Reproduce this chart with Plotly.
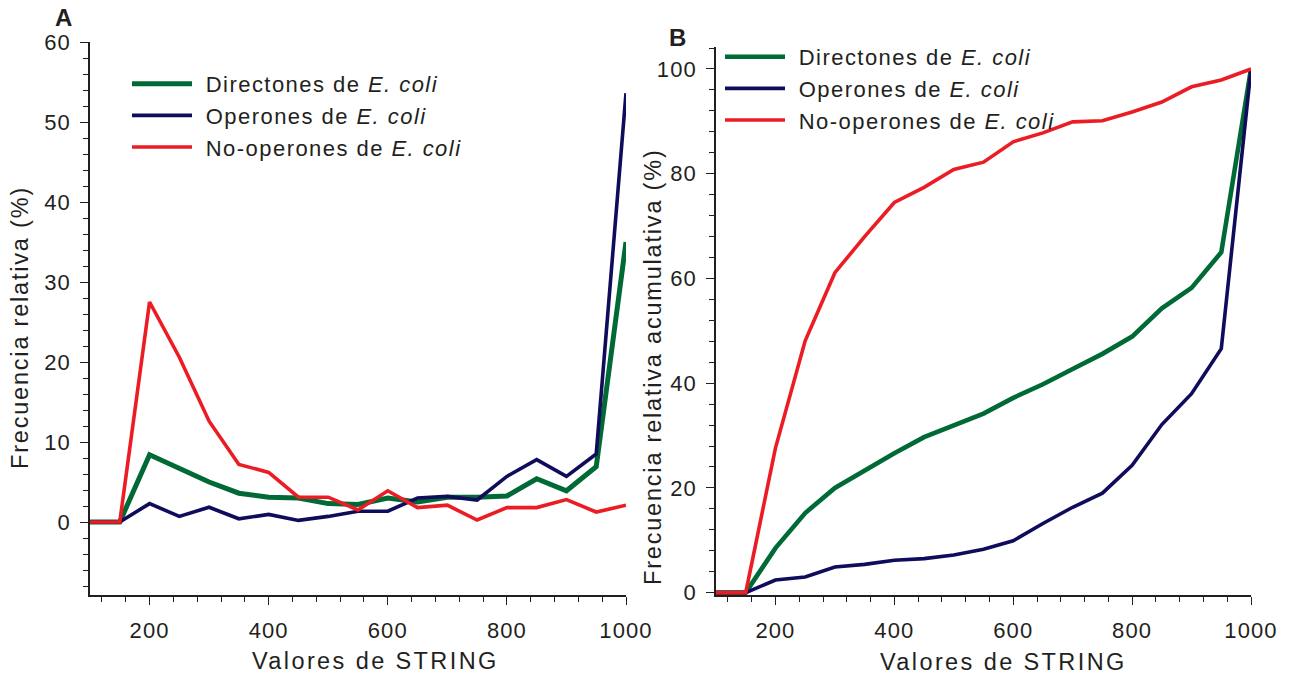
import plotly.graph_objects as go

# STRING score bins
string_vals = [100, 150, 200, 250, 300, 350, 400, 450, 500, 550,
               600, 650, 700, 750, 800, 850, 900, 950, 1000]

# Panel A: relative frequency (%)
dir_rel = [0, 0, 8.4, 6.7, 5.0, 3.6, 3.1, 3.0, 2.3, 2.2,
           3.0, 2.5, 3.1, 3.1, 3.25, 5.4, 3.9, 6.9, 35.0]
op_rel = [0, 0, 2.3, 0.7, 1.85, 0.4, 0.95, 0.2, 0.7, 1.35,
          1.35, 3.0, 3.2, 2.75, 5.7, 7.8, 5.7, 8.5, 53.6]
noop_rel = [0, 0, 27.5, 20.6, 12.6, 7.2, 6.2, 3.1, 3.1, 1.5,
            3.9, 1.8, 2.1, 0.25, 1.8, 1.8, 2.8, 1.25, 2.1]

# Panel B: cumulative relative frequency (%)
dir_cum = [0, 0, 8.5, 15.2, 20.0, 23.4, 26.6, 29.7, 31.9, 34.2,
           37.2, 39.8, 42.7, 45.6, 48.9, 54.3, 58.2, 65.0, 100.0]
op_cum = [0, 0, 2.4, 3.0, 4.9, 5.4, 6.2, 6.5, 7.2, 8.3,
          9.9, 13.2, 16.3, 19.0, 24.3, 32.1, 38.0, 46.6, 100.0]
noop_cum = [0, 0, 27.6, 48.1, 61.1, 68.0, 74.5, 77.4, 80.8, 82.2,
            86.1, 87.8, 89.9, 90.1, 91.8, 93.7, 96.6, 97.9, 100.0]

series_names = ["Directones de <i>E. coli</i>",
                "Operones de <i>E. coli</i>",
                "No-operones de <i>E. coli</i>"]

x_tickvals = [200, 400, 600, 800, 1000]
ya_tickvals = [0, 10, 20, 30, 40, 50, 60]
yb_tickvals = [0, 20, 40, 60, 80, 100]

W, H = 1292, 677
FONT = "Liberation Sans, Arial, sans-serif"
INK = "#231f20"
GREEN, NAVY, RED = "#006a37", "#100c5c", "#ec1c24"


def sp(t, ls=1.2):
    return f'<span style="letter-spacing:{ls}px">{t}</span>'


def px_x(p):
    return p / W


def px_y(p):
    return 1 - p / H


fig = go.Figure()

styles = [(GREEN, 5), (NAVY, 3.6), (RED, 3.6)]
for name, ys, (c, w) in zip(series_names, [dir_rel, op_rel, noop_rel], styles):
    fig.add_trace(go.Scatter(x=string_vals, y=ys, mode="lines",
                             name=sp("\u2004" + name, 1.45),
                             line=dict(color=c, width=w), legend="legend",
                             xaxis="x", yaxis="y"))
stylesB = [(GREEN, 4.6), (NAVY, 3.6), (RED, 3.6)]
for name, ys, (c, w) in zip(series_names, [dir_cum, op_cum, noop_cum], stylesB):
    fig.add_trace(go.Scatter(x=string_vals, y=ys, mode="lines",
                             name=sp("\u2004" + name, 1.45),
                             line=dict(color=c, width=w), legend="legend2",
                             xaxis="x2", yaxis="y2"))

domA = [px_x(90), px_x(626)]
domB = [px_x(716), px_x(1251)]
ydom_a = [px_y(595), px_y(42)]
ydom_b = [px_y(595), px_y(47)]
xr = [100, 1000]
ya_r = [-9.125, 60]
yb_r = [-0.45, 104.2]

tickfont = dict(family=FONT, size=22, color=INK)


def xaxis_main(dom, anchor):
    return dict(domain=dom, range=xr, anchor=anchor, showgrid=False, zeroline=False,
                automargin=False, showline=True, linecolor=INK, linewidth=1.5,
                tickvals=x_tickvals, ticktext=[sp(str(v), 1.1) for v in x_tickvals],
                ticks="outside", ticklen=8, tickwidth=1.4, tickcolor=INK,
                ticklabelstandoff=7, tickfont=tickfont,
                minor=dict(tick0=0, dtick=40, ticks="outside", ticklen=5,
                           tickwidth=1.3, tickcolor=INK))


def xaxis_inner(over, anchor):
    return dict(overlaying=over, anchor=anchor, range=xr, side="bottom",
                automargin=False, showgrid=False, zeroline=False, showline=False,
                showticklabels=False,
                tickvals=x_tickvals, ticks="inside", ticklen=10, tickwidth=1.4,
                tickcolor=INK,
                minor=dict(tick0=0, dtick=40, ticks="inside", ticklen=6,
                           tickwidth=1.3, tickcolor=INK))


def yaxis_main(dom, anchor, rng, tv, mdt, standoff):
    return dict(domain=dom, range=rng, anchor=anchor, showgrid=False, zeroline=False,
                automargin=False, showline=True, linecolor=INK, linewidth=1.5,
                tickvals=tv, ticktext=[sp(str(v), 1.1) for v in tv],
                ticks="outside", ticklen=8, tickwidth=1.4, tickcolor=INK,
                ticklabelstandoff=standoff, tickfont=tickfont,
                minor=dict(tick0=0, dtick=mdt, ticks="outside", ticklen=5,
                           tickwidth=1.3, tickcolor=INK))


def yaxis_inner(over, anchor, rng, tv, mdt):
    return dict(overlaying=over, anchor=anchor, range=rng, side="left",
                automargin=False, showgrid=False, zeroline=False, showline=False,
                showticklabels=False,
                tickvals=tv, ticks="inside", ticklen=8, tickwidth=1.4, tickcolor=INK,
                minor=dict(tick0=0, dtick=mdt, ticks="inside", ticklen=5,
                           tickwidth=1.3, tickcolor=INK))


legend_common = dict(font=dict(family=FONT, size=22, color=INK), bgcolor="rgba(0,0,0,0)",
                     borderwidth=0, itemwidth=60, xanchor="left", yanchor="top",
                     itemclick=False, itemdoubleclick=False)

title_font = dict(family=FONT, size=23.5, color=INK)


def label(text, x, y, font, angle=0):
    return dict(text=text, x=px_x(x), y=px_y(y), xref="paper", yref="paper",
                xanchor="center", yanchor="middle", showarrow=False,
                textangle=angle, font=font)


fig.update_layout(
    width=W, height=H, margin=dict(l=0, r=0, t=0, b=0, autoexpand=False),
    paper_bgcolor="white", plot_bgcolor="white",
    xaxis=xaxis_main(domA, "y"),
    yaxis=yaxis_main(ydom_a, "x", ya_r, ya_tickvals, 2, 5),
    xaxis2=xaxis_main(domB, "y2"),
    yaxis2=yaxis_main(ydom_b, "x2", yb_r, yb_tickvals, 4, 5),
    xaxis3=xaxis_inner("x", "y"),
    yaxis3=yaxis_inner("y", "x", ya_r, ya_tickvals, 2),
    xaxis4=xaxis_inner("x2", "y2"),
    yaxis4=yaxis_inner("y2", "x2", yb_r, yb_tickvals, 4),
    legend=dict(x=px_x(127), y=px_y(63), **legend_common),
    legend2=dict(x=px_x(720), y=px_y(36), **legend_common),
    showlegend=True,
    annotations=[
        label("<b>A</b>", 63, 18, dict(family=FONT, size=24, color=INK)),
        label("<b>B</b>", 678, 37, dict(family=FONT, size=24, color=INK)),
        label(sp("Valores de STRING", 2.4), 376, 661, title_font),
        label(sp("Valores de STRING", 2.4), 1003, 662, title_font),
        label(sp("Frecuencia relativa (%)", 1.8), 20, 328, title_font, -90),
        label(sp("Frecuencia relativa acumulativa (%)", 1.8), 653, 366, title_font, -90),
    ],
)

fig.write_html("out.html")
